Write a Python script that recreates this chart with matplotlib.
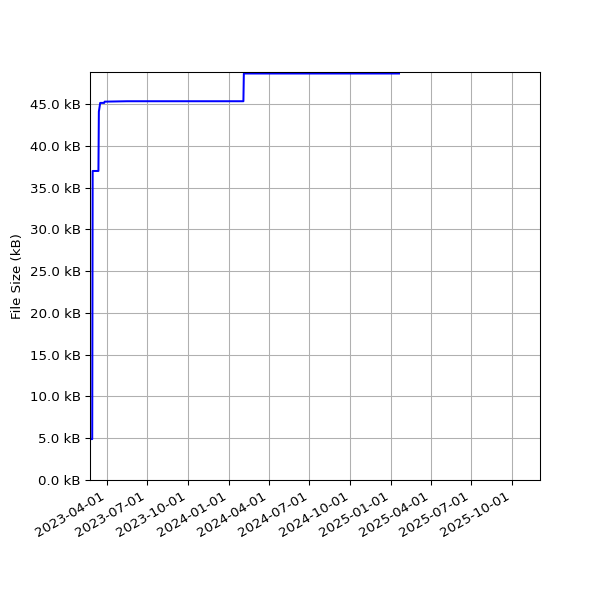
import matplotlib
matplotlib.use("Agg")
import matplotlib.pyplot as plt
import matplotlib.dates as mdates
from matplotlib.ticker import FuncFormatter
import pandas as pd

dates = ["2023-02-22", "2023-02-27", "2023-02-28", "2023-03-13", "2023-03-14",
         "2023-03-17", "2023-03-26", "2023-03-27", "2023-05-17", "2024-02-03",
         "2024-02-04", "2025-01-19"]
sizes_kb = [4.9, 4.9, 37.0, 37.0, 44.1, 45.15, 45.15, 45.3, 45.35, 45.35, 48.67, 48.67]

x = pd.to_datetime(dates)

fig, ax = plt.subplots(figsize=(6.25, 6.25), dpi=96)
ax.plot(x, sizes_kb, color="blue", linewidth=1.5)
ax.set_ylabel("File Size (kB)")
ax.yaxis.set_major_formatter(FuncFormatter(lambda v, p: f"{v:.1f} kB"))
ax.xaxis.set_major_locator(mdates.MonthLocator(bymonth=[1, 4, 7, 10]))
ax.xaxis.set_major_formatter(mdates.DateFormatter("%Y-%m-%d"))
ax.set_xlim(pd.Timestamp("2023-02-22"), pd.Timestamp("2025-12-03"))
ax.set_ylim(0, 48.85)
ax.set_yticks([0, 5, 10, 15, 20, 25, 30, 35, 40, 45])
ax.grid(True)
fig.autofmt_xdate()
fig.subplots_adjust(left=0.15, right=0.9, top=0.88, bottom=0.2)
fig.savefig("out.png", dpi=96)
